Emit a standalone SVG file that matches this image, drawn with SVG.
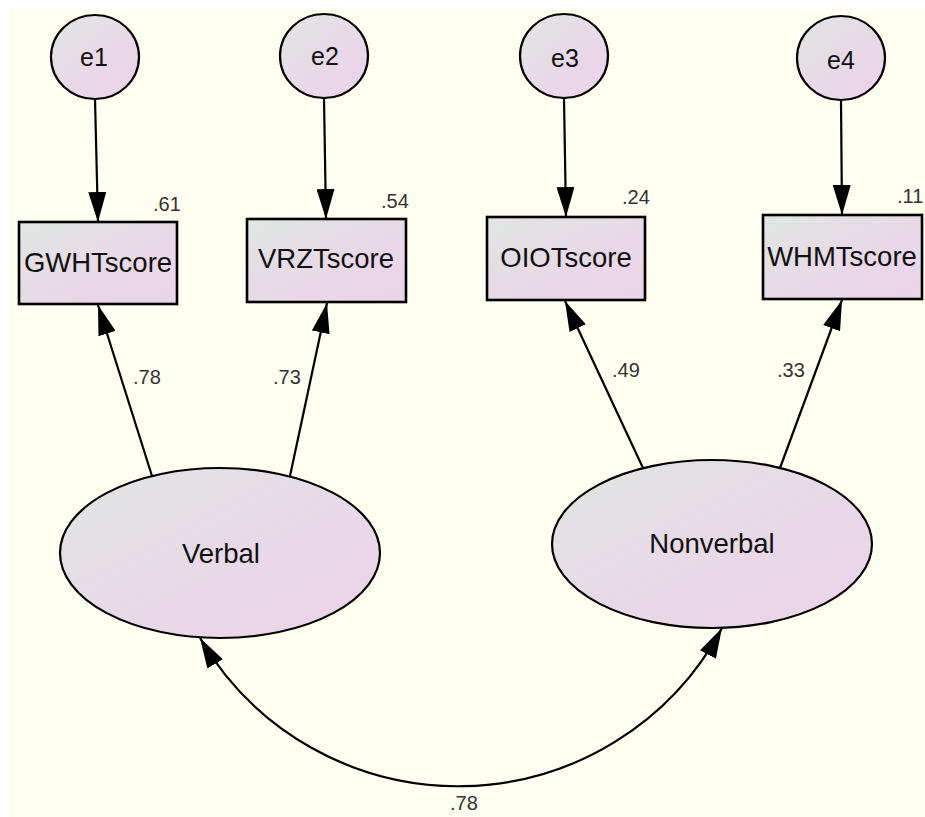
<svg xmlns="http://www.w3.org/2000/svg" width="925" height="817" viewBox="0 0 925 817">
<defs>
<linearGradient id="g" x1="0" y1="0" x2="1" y2="1">
<stop offset="0" stop-color="#DFE6E1"/>
<stop offset="0.6" stop-color="#E9D8E8"/>
<stop offset="1" stop-color="#ECD3E9"/>
</linearGradient>
<marker id="ah" markerUnits="userSpaceOnUse" markerWidth="30" markerHeight="18" refX="30" refY="9" orient="auto-start-reverse">
<path d="M0,0 L30,9 L0,18 z" fill="#000"/>
</marker>
<style>
.node{fill:url(#g);stroke:#000;stroke-width:2.2}
.box{fill:url(#g);stroke:#000;stroke-width:2.6}
.lbl{font-family:"Liberation Sans",Arial,sans-serif;font-size:27.5px;fill:#111;text-anchor:middle}
.el{font-family:"Liberation Sans",Arial,sans-serif;font-size:25px;fill:#111;text-anchor:middle}
.num{font-family:"Liberation Sans",Arial,sans-serif;font-size:20px;fill:#333}
.edge{stroke:#000;stroke-width:2.2;fill:none;marker-end:url(#ah)}
</style>
</defs>
<rect x="0" y="0" width="925" height="817" fill="#FFFFFF"/>
<rect x="9" y="8" width="916" height="809" fill="#FEFFF0"/>

<g id="e1"><ellipse class="node" cx="95" cy="57" rx="44" ry="42"/><text class="el" x="94" y="66">e1</text></g>
<g id="e2"><ellipse class="node" cx="324" cy="56" rx="44" ry="42"/><text class="el" x="325" y="65">e2</text></g>
<g id="e3"><ellipse class="node" cx="564" cy="56" rx="44" ry="42"/><text class="el" x="565" y="67">e3</text></g>
<g id="e4"><ellipse class="node" cx="841" cy="58" rx="44" ry="42"/><text class="el" x="841" y="69">e4</text></g>

<g id="GWHTscore"><rect class="box" x="19" y="222" width="158" height="82"/><text class="lbl" x="98" y="272">GWHTscore</text><text class="num" x="153" y="211">.61</text></g>
<g id="VRZTscore"><rect class="box" x="247" y="219" width="159" height="83"/><text class="lbl" x="326" y="268">VRZTscore</text><text class="num" x="381" y="208">.54</text></g>
<g id="OIOTscore"><rect class="box" x="487" y="217" width="158" height="83"/><text class="lbl" x="566" y="267">OIOTscore</text><text class="num" x="622" y="204">.24</text></g>
<g id="WHMTscore"><rect class="box" x="763" y="215" width="159" height="84"/><text class="lbl" x="842" y="266">WHMTscore</text><text class="num" x="897" y="203">.11</text></g>

<g id="Verbal"><ellipse class="node" cx="220" cy="553" rx="160" ry="85"/><text class="lbl" x="221" y="563">Verbal</text></g>
<g id="Nonverbal"><ellipse class="node" cx="712" cy="544" rx="160" ry="84"/><text class="lbl" x="712" y="553">Nonverbal</text></g>

<g id="connectors">
<line class="edge" x1="95" y1="99" x2="98" y2="222"/>
<line class="edge" x1="324" y1="98" x2="326" y2="219"/>
<line class="edge" x1="564" y1="98" x2="566" y2="217"/>
<line class="edge" x1="841" y1="100" x2="842" y2="215"/>
<line class="edge" x1="152" y1="476" x2="98" y2="305"/>
<line class="edge" x1="290" y1="476" x2="327" y2="303"/>
<line class="edge" x1="643" y1="468" x2="565" y2="301"/>
<line class="edge" x1="780" y1="468" x2="842" y2="300"/>
<path class="edge" d="M200,638 A299,299 0 0 0 722,628" style="marker-start:url(#ah)"/>
<text class="num" x="133" y="384">.78</text>
<text class="num" x="273" y="384">.73</text>
<text class="num" x="612" y="377">.49</text>
<text class="num" x="777" y="377">.33</text>
<text class="num" x="450" y="810">.78</text>
</g>
</svg>
